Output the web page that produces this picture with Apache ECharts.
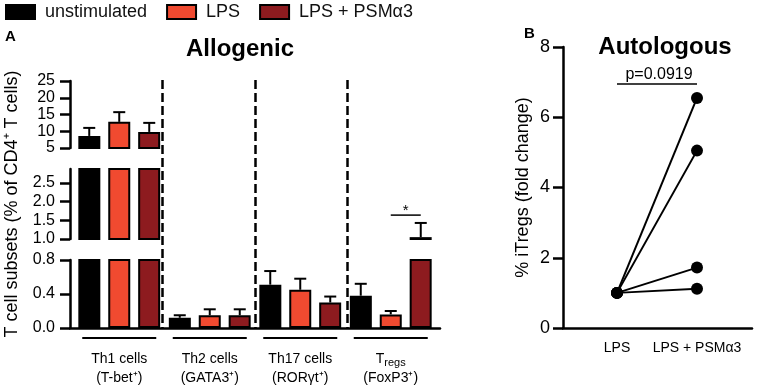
<!DOCTYPE html>
<html>
<head>
<meta charset="utf-8">
<script src="https://cdn.jsdelivr.net/npm/echarts@6/dist/echarts.min.js"></script>
<style>
  html, body { margin: 0; padding: 0; background: #fff; }
  #chart { width: 765px; height: 388px; }
</style>
</head>
<body>
<div id="chart"></div>
<script>
  // panel A data
  const categories = ['Th1 cells', 'Th2 cells', 'Th17 cells', 'Tregs']
  const markers = ['T-bet⁺', 'GATA3⁺', 'RORγt⁺', 'FoxP3⁺']
  const treatments = ['unstimulated', 'LPS', 'LPS + PSMα3']
  const unstimulated = [8.6, 0.12, 0.51, 0.38]
  const unstimulatedSem = [2.4, 0.03, 0.16, 0.14]
  const lps = [12.8, 0.15, 0.45, 0.16]
  const lpsSem = [2.9, 0.07, 0.13, 0.04]
  const lpsPsm = [9.8, 0.15, 0.30, 1.05]
  const lpsPsmSem = [2.7, 0.07, 0.07, 0.38]
  // broken y axis: [min, max, interval] for each piece
  const segTop = [5, 25, 5]
  const segMid = [1, 2.875, 0.5]
  const segLow = [0, 0.8, 0.4]
  // significance: [category, from treatment, to treatment, y value, label]
  const sigBar = [3, 1, 2, 1.64, '*']

  // panel B data
  const pairLabels = ['LPS', 'LPS + PSMα3']
  const donorLps = [1.0, 1.0, 1.0, 1.0]
  const donorLpsPsm = [6.55, 5.05, 1.72, 1.12]
  const pValue = 'p=0.0919'
  const pBarY = 6.95
  const yRangeB = [0, 8, 2]

  const colors = ['#000000', '#f04a30', '#8d1b1f']
  const font = 'Liberation Sans, Arial, Helvetica, sans-serif'
  const means = [unstimulated, lps, lpsPsm]
  const sems = [unstimulatedSem, lpsSem, lpsPsmSem]
  const segs = [segTop, segMid, segLow]

  const myChart = echarts.init(document.getElementById('chart'))

  // three stacked grids make the broken axis
  let grids = [
    { left: 74, right: 329, top: 81, height: 67 },
    { left: 74, right: 329, top: 169, height: 70 },
    { left: 74, right: 329, top: 260, height: 68 },
    { left: 70, right: 325, top: 80, height: 248 },   // overlay: dashed separators + x axis line
    { left: 563, right: 13, top: 47, height: 281 }    // panel B
  ]

  let xAxes = segs.map((s, g) => ({
    type: 'category',
    gridIndex: g,
    data: categories,
    axisLine: { show: false },
    axisTick: { show: false },
    axisLabel: g < 2 ? { show: false } : {
      interval: 0,
      margin: 22,
      fontSize: 14,
      lineHeight: 19,
      color: '#000',
      fontFamily: font,
      formatter: (v, i) => (v === 'Tregs' ? 'T{sub|regs}' : v) + '\n(' + markers[i] + ')',
      rich: {
        sub: { fontSize: 11, fontFamily: font, color: '#000', padding: [7, 0, 0, 0] }
      }
    }
  }))
  xAxes.push({
    type: 'value',
    gridIndex: 3,
    min: 0,
    max: 4,
    interval: 1,
    axisLine: { show: true, lineStyle: { color: '#000', width: 2.5 } },
    axisTick: { show: false },
    axisLabel: { show: false },
    splitLine: {
      show: true,
      showMinLine: false,
      showMaxLine: false,
      lineStyle: { color: '#000', width: 2.5, type: [9, 4] }
    }
  })
  xAxes.push({
    type: 'value',
    gridIndex: 4,
    min: -0.675,
    max: 1.6875,
    axisLine: { show: true, onZero: false, lineStyle: { color: '#000', width: 2.5 } },
    axisTick: { show: false },
    splitLine: { show: false },
    axisLabel: {
      customValues: [0, 1],
      formatter: v => pairLabels[Math.round(v)],
      fontSize: 14,
      margin: 13,
      color: '#000',
      fontFamily: font
    }
  })

  let yAxes = segs.map((s, g) => ({
    type: 'value',
    gridIndex: g,
    min: s[0],
    max: s[1],
    interval: s[2],
    offset: 4,
    axisLine: { show: true, onZero: false, lineStyle: { color: '#000', width: 2.5 } },
    axisTick: { show: true, length: 10, lineStyle: { color: '#000', width: 2.5 } },
    splitLine: { show: false },
    axisLabel: {
      fontSize: 16,
      margin: 15,
      color: '#000',
      fontFamily: font,
      showMaxLabel: g !== 1,
      formatter: v => (g === 0 ? String(v) : v.toFixed(1))
    }
  }))
  yAxes.push({
    type: 'value',
    gridIndex: 3,
    min: 0,
    max: 1,
    axisLine: { show: false },
    axisTick: { show: false },
    axisLabel: { show: false },
    splitLine: { show: false },
    name: 'T cell subsets (% of CD4⁺ T cells)',
    nameLocation: 'middle',
    nameGap: 49,
    nameTextStyle: { fontSize: 18, color: '#000', fontFamily: font }
  })
  yAxes.push({
    type: 'value',
    gridIndex: 4,
    min: yRangeB[0],
    max: yRangeB[1],
    interval: yRangeB[2],
    axisLine: { show: true, onZero: false, lineStyle: { color: '#000', width: 2.5 } },
    axisTick: { show: true, length: 10, lineStyle: { color: '#000', width: 2.5 } },
    splitLine: { show: false },
    axisLabel: { fontSize: 18, margin: 13, color: '#000', fontFamily: font },
    name: '% iTregs (fold change)',
    nameLocation: 'middle',
    nameGap: 31,
    nameTextStyle: { fontSize: 18, color: '#000', fontFamily: font }
  })

  let series = []
  segs.forEach((s, g) => {
    treatments.forEach((name, t) => {
      series.push({
        name: name,
        type: 'bar',
        xAxisIndex: g,
        yAxisIndex: g,
        data: means[t],
        barWidth: 22,
        barGap: '36%',
        clip: true,
        itemStyle: { color: colors[t], borderColor: '#000', borderWidth: 2 }
      })
    })
  })

  // upper error bars, drawn in the piece where the mean sits
  segs.forEach((s, g) => {
    treatments.forEach((name, t) => {
      series.push({
        type: 'custom',
        xAxisIndex: g,
        yAxisIndex: g,
        silent: true,
        z: 3,
        data: means[t].map((m, i) => [i, m, sems[t][i]]),
        renderItem: (params, api) => {
          let m = api.value(1)
          if (m < s[0] || m > s[1]) return
          let base = api.coord([api.value(0), m])
          let top = api.coord([api.value(0), m + api.value(2)])
          let x = base[0] + (t - 1) * 30
          return {
            type: 'group',
            children: [
              { type: 'line', shape: { x1: x, y1: base[1], x2: x, y2: top[1] }, style: { stroke: '#000', lineWidth: 2 } },
              { type: 'line', shape: { x1: x - 6, y1: top[1], x2: x + 6, y2: top[1] }, style: { stroke: '#000', lineWidth: 2 } }
            ]
          }
        }
      })
    })
  })

  // group underlines below the axis
  series.push({
    type: 'custom',
    xAxisIndex: 2,
    yAxisIndex: 2,
    silent: true,
    data: categories.map((c, i) => [i, 0]),
    renderItem: (params, api) => {
      let c = api.coord([api.value(0), 0])
      return { type: 'line', shape: { x1: c[0] - 37, y1: c[1] + 10, x2: c[0] + 37, y2: c[1] + 10 }, style: { stroke: '#000', lineWidth: 2 } }
    }
  })

  // significance bar
  series.push({
    type: 'custom',
    xAxisIndex: 1,
    yAxisIndex: 1,
    silent: true,
    data: [[sigBar[0], sigBar[3]]],
    renderItem: (params, api) => {
      let c = api.coord([api.value(0), api.value(1)])
      let x1 = c[0] + (sigBar[1] - 1) * 30
      let x2 = c[0] + (sigBar[2] - 1) * 30
      return {
        type: 'group',
        children: [
          { type: 'line', shape: { x1: x1, y1: c[1], x2: x2, y2: c[1] }, style: { stroke: '#000', lineWidth: 1.5 } },
          { type: 'text', x: (x1 + x2) / 2, y: c[1] + 3, style: { text: sigBar[4], fill: '#000', font: '15px ' + font, textAlign: 'center', textVerticalAlign: 'bottom' } }
        ]
      }
    }
  })

  // panel B paired lines
  donorLpsPsm.forEach((v, i) => {
    series.push({
      type: 'line',
      xAxisIndex: 4,
      yAxisIndex: 4,
      data: [[0, donorLps[i]], [1, v]],
      symbol: 'circle',
      symbolSize: 12,
      color: '#000',
      lineStyle: { color: '#000', width: 2 },
      itemStyle: { color: '#000' },
      z: 4
    })
  })

  series.push({
    type: 'custom',
    xAxisIndex: 4,
    yAxisIndex: 4,
    silent: true,
    data: [[0, pBarY]],
    renderItem: (params, api) => {
      let a = api.coord([0, pBarY])
      let b = api.coord([1, pBarY])
      return {
        type: 'group',
        children: [
          { type: 'line', shape: { x1: a[0], y1: a[1], x2: b[0], y2: b[1] }, style: { stroke: '#000', lineWidth: 1.5 } },
          { type: 'text', x: (a[0] + b[0]) / 2 + 2, y: a[1] - 1, style: { text: pValue, fill: '#000', font: '16px ' + font, textAlign: 'center', textVerticalAlign: 'bottom' } }
        ]
      }
    }
  })

  myChart.setOption({
    animation: false,
    backgroundColor: '#fff',
    textStyle: { fontFamily: font },
    legend: {
      data: treatments,
      left: 5,
      top: 3,
      padding: 0,
      itemWidth: 29,
      itemHeight: 14,
      itemGap: 19,
      icon: 'rect',
      textStyle: { fontSize: 18, color: '#111', fontFamily: font, padding: [0, 0, 0, 5] }
    },
    graphic: [
      { type: 'text', x: 5, y: 37, style: { text: 'A', font: 'bold 15px ' + font, fill: '#000', textVerticalAlign: 'middle' } },
      { type: 'text', x: 240, y: 49, style: { text: 'Allogenic', font: 'bold 24px ' + font, fill: '#000', textAlign: 'center', textVerticalAlign: 'middle' } },
      { type: 'text', x: 524, y: 34, style: { text: 'B', font: 'bold 15px ' + font, fill: '#000', textVerticalAlign: 'middle' } },
      { type: 'text', x: 665, y: 47, style: { text: 'Autologous', font: 'bold 24px ' + font, fill: '#000', textAlign: 'center', textVerticalAlign: 'middle' } }
    ],
    grid: grids,
    xAxis: xAxes,
    yAxis: yAxes,
    series: series
  })
</script>
</body>
</html>
